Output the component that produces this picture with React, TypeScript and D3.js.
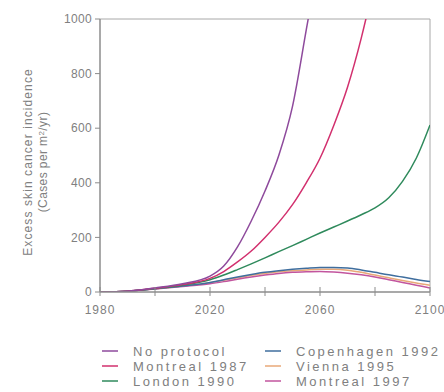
import React from "react";
import * as d3 from "d3";

// Year grid shared by every scenario
const years = [1980, 1990, 2000, 2010, 2020, 2025, 2030, 2035, 2040, 2045, 2050, 2055, 2060, 2065, 2070, 2075, 2080, 2085, 2090, 2095, 2100];

// Excess skin cancer incidence (cases per million per year)
const noProtocol = [0, 3, 15, 30, 58, 95, 165, 260, 370, 500, 680, 960, 1250, 1600, 2000, 2400, 2800, 3200, 3600, 4000, 4400];
const montreal1987 = [0, 3, 14, 27, 50, 75, 110, 150, 200, 255, 320, 400, 490, 610, 750, 930, 1150, 1400, 1700, 2000, 2300];
const london1990 = [0, 3, 13, 25, 45, 62, 82, 103, 125, 148, 170, 193, 216, 238, 260, 283, 308, 345, 405, 490, 612];
const copenhagen1992 = [0, 3, 12, 22, 35, 45, 55, 64, 72, 78, 83, 87, 90, 90, 88, 81, 72, 63, 55, 46, 38];
const vienna1995 = [0, 3, 12, 22, 34, 43, 52, 61, 68, 74, 78, 81, 83, 83, 80, 72, 62, 52, 42, 33, 25];
const montreal1997 = [0, 3, 11, 20, 30, 38, 47, 55, 62, 68, 72, 74, 75, 73, 69, 63, 55, 45, 35, 25, 15];

const seriesNames = ["No protocol", "Montreal 1987", "London 1990", "Copenhagen 1992", "Vienna 1995", "Montreal 1997"];
const seriesValues = [noProtocol, montreal1987, london1990, copenhagen1992, vienna1995, montreal1997];
const seriesColors = ["#8e4a9c", "#d2306e", "#2f8a5c", "#3f6e9e", "#e8a878", "#c2559e"];

const xTicks = [1980, 2000, 2020, 2040, 2060, 2080, 2100];
const xTickLabels = [1980, 2020, 2060, 2100];
const yTicks = [0, 200, 400, 600, 800, 1000];

const W = 444;
const H = 392;
const left = 100;
const right = 430;
const top = 19;
const bottom = 292;

export default function App() {
  const x = d3.scaleLinear().domain([1980, 2100]).range([left, right]);
  const y = d3.scaleLinear().domain([0, 1000]).range([bottom, top]);
  const line = d3
    .line<number>()
    .x((_, i) => x(years[i]))
    .y((d) => y(d))
    .curve(d3.curveMonotoneX);

  const textColor = "#808080";
  const axisColor = "#8c8c8c";
  const font = "Liberation Sans, Arial, sans-serif";

  // Draw order: lower curves first so the steep ones sit on top
  const order = [4, 5, 3, 2, 1, 0];

  return (
    <svg
      width={W}
      height={H}
      style={{ position: "absolute", left: 0, top: 0, background: "#fff" }}
      fontFamily={font}
    >
      <defs>
        <clipPath id="plot-clip">
          <rect x={left} y={top} width={right - left} height={bottom - top} />
        </clipPath>
      </defs>

      {/* frame */}
      <line x1={left} x2={right} y1={top} y2={top} stroke="#a8a8a8" strokeWidth={1} />
      <line x1={right} x2={right} y1={top} y2={bottom} stroke="#a8a8a8" strokeWidth={1} />

      {/* curves */}
      <g clipPath="url(#plot-clip)">
        {order.map((i) => (
          <path
            key={seriesNames[i]}
            d={line(seriesValues[i]) || ""}
            fill="none"
            stroke={seriesColors[i]}
            strokeWidth={1.5}
          />
        ))}
      </g>

      {/* y axis */}
      <line x1={left} x2={left} y1={top} y2={bottom} stroke={axisColor} strokeWidth={1.5} />
      {yTicks.map((t) => (
        <g key={t}>
          <line x1={left - 5} x2={left} y1={y(t)} y2={y(t)} stroke={axisColor} strokeWidth={1} />
          <text
            x={left - 8}
            y={y(t)}
            dy="0.35em"
            textAnchor="end"
            fontSize={12}
            fill={textColor}
            letterSpacing={0.3}
          >
            {t}
          </text>
        </g>
      ))}

      {/* x axis */}
      <line x1={left} x2={right} y1={bottom} y2={bottom} stroke={axisColor} strokeWidth={1.5} />
      {xTicks.map((t) => (
        <line key={t} x1={x(t)} x2={x(t)} y1={bottom - 5} y2={bottom + 4} stroke={axisColor} strokeWidth={1} />
      ))}
      {xTickLabels.map((t) => (
        <text
          key={t}
          x={x(t)}
          y={bottom + 22}
          textAnchor="middle"
          fontSize={12}
          fill={textColor}
          letterSpacing={1}
        >
          {t}
        </text>
      ))}

      {/* y axis title */}
      <text
        transform={`translate(32,162) rotate(-90)`}
        textAnchor="middle"
        fontSize={12}
        fill={textColor}
        letterSpacing={1.1}
      >
        Excess skin cancer incidence
      </text>
      <text
        transform={`translate(47,162) rotate(-90)`}
        textAnchor="middle"
        fontSize={12}
        fill={textColor}
        letterSpacing={0.4}
      >
        (Cases per m
        <tspan dy={-3} fontSize={8}>2</tspan>
        <tspan dy={3}>/yr)</tspan>
      </text>

      {/* legend */}
      {seriesNames.map((name, i) => {
        const col = Math.floor(i / 3);
        const row = i % 3;
        const lx = col === 0 ? 102 : 265;
        const ly = 351 + row * 15;
        return (
          <g key={name}>
            <line x1={lx} x2={lx + 16} y1={ly} y2={ly} stroke={seriesColors[i]} strokeWidth={1.5} />
            <text x={lx + 31} y={ly} dy="0.35em" fontSize={13} fill={textColor} letterSpacing={2.5}>
              {name}
            </text>
          </g>
        );
      })}
    </svg>
  );
}
